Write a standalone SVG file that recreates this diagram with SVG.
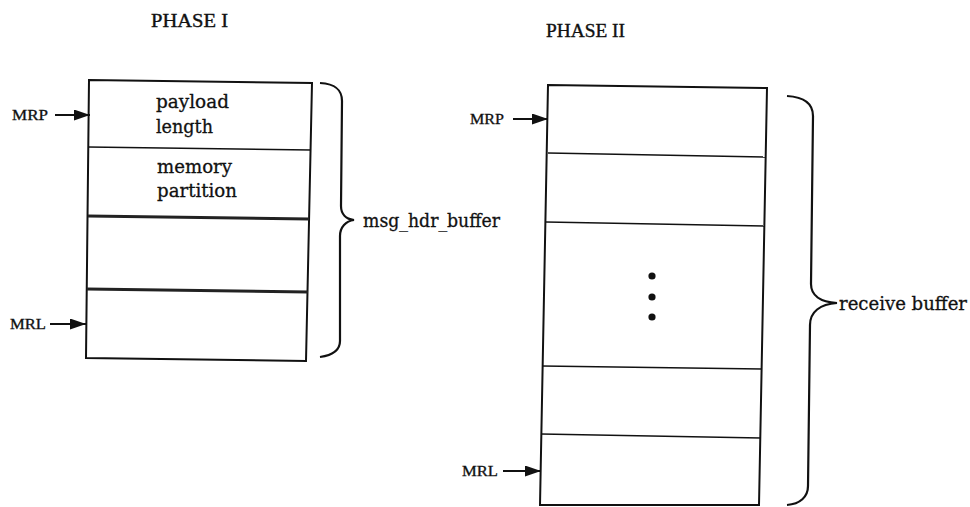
<svg xmlns="http://www.w3.org/2000/svg" width="970" height="507" viewBox="0 0 970 507">
<style>
.bg{fill:#ffffff}
.box{fill:none;stroke:#111;stroke-width:2}
.div{stroke:#111;stroke-width:1.6;fill:none}
.thick{stroke:#222;stroke-width:3;fill:none}
.brace{fill:none;stroke:#111;stroke-width:2.2}
.t{font-family:"DejaVu Serif","Liberation Serif",serif;font-size:18px;fill:#111;stroke:#111;stroke-width:0.3}
.ptr{font-family:"Liberation Serif",serif;font-size:15px;fill:#111;stroke:#111;stroke-width:0.3}
.ph{font-family:"Liberation Serif",serif;font-size:18px;fill:#111;stroke:#111;stroke-width:0.35}
.arr{stroke:#111;stroke-width:2;fill:none;marker-end:url(#ah)}
</style>
<defs>
<marker id="ah" markerWidth="16" markerHeight="11" refX="16" refY="5.5" orient="auto" markerUnits="userSpaceOnUse">
<path d="M0,0 L16,5.5 L0,11 Z" fill="#111"/>
</marker>
</defs>
<rect class="bg" x="0" y="0" width="970" height="507"/>

<g id="phase1-title"><text class="ph" x="151" y="27" textLength="77" lengthAdjust="spacingAndGlyphs">PHASE I</text></g>
<g id="phase2-title"><text class="ph" x="546" y="37" textLength="79" lengthAdjust="spacingAndGlyphs">PHASE II</text></g>

<g id="msg-hdr-buffer">
<polygon class="box" points="89,80 312,83 306,361 86,358"/>
<line class="div" x1="88" y1="147" x2="311" y2="150"/>
<line class="thick" x1="88" y1="216" x2="309" y2="219"/>
<line class="thick" x1="87" y1="289" x2="308" y2="292"/>
<text class="t" x="156" y="108" textLength="73" lengthAdjust="spacingAndGlyphs">payload</text>
<text class="t" x="156" y="133" textLength="57" lengthAdjust="spacingAndGlyphs">length</text>
<text class="t" x="157" y="173" textLength="75" lengthAdjust="spacingAndGlyphs">memory</text>
<text class="t" x="157" y="197" textLength="80" lengthAdjust="spacingAndGlyphs">partition</text>
</g>

<g id="receive-buffer">
<polygon class="box" points="548,85 767,88 759,505 540,505"/>
<line class="div" x1="548" y1="153" x2="766" y2="157"/>
<line class="div" x1="546" y1="222" x2="765" y2="226"/>
<line class="div" x1="542" y1="366" x2="762" y2="369"/>
<line class="div" x1="541" y1="434" x2="761" y2="438"/>
<circle cx="652" cy="276" r="3.6" fill="#111"/>
<circle cx="652" cy="297" r="3.6" fill="#111"/>
<circle cx="652" cy="317" r="3.6" fill="#111"/>
</g>

<g id="brace1">
<path class="brace" d="M320,83 C336,84 342,90 342,101 L341,206 C341,214 346,219 354,220 C346,221 340,227 340,236 L340,341 C340,350 334,355 320,357"/>
<text class="t" x="363" y="227" textLength="137" lengthAdjust="spacingAndGlyphs">msg_hdr_buffer</text>
</g>

<g id="brace2">
<path class="brace" d="M787,96 C805,97 813,104 813,116 L811,284 C811,295 820,302 837,303 C820,304 810,312 810,325 L808,486 C808,497 800,504 787,505"/>
<text class="t" x="839" y="310" textLength="128" lengthAdjust="spacingAndGlyphs">receive buffer</text>
</g>

<g id="pointer-labels">
<text class="ptr" x="12" y="120" textLength="36" lengthAdjust="spacingAndGlyphs">MRP</text>
<text class="ptr" x="10" y="329" textLength="36" lengthAdjust="spacingAndGlyphs">MRL</text>
<text class="ptr" x="470" y="124" textLength="34" lengthAdjust="spacingAndGlyphs">MRP</text>
<text class="ptr" x="462" y="476" textLength="36" lengthAdjust="spacingAndGlyphs">MRL</text>
</g>

<g id="connectors">
<line class="arr" x1="55" y1="115" x2="90" y2="115"/>
<line class="arr" x1="50" y1="324" x2="86" y2="324"/>
<line class="arr" x1="513" y1="119" x2="548" y2="119"/>
<line class="arr" x1="503" y1="471" x2="541" y2="471"/>
</g>
</svg>
